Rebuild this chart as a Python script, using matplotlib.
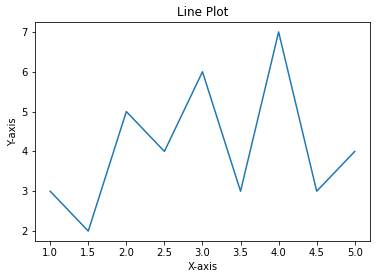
import matplotlib
matplotlib.use('Agg')
import matplotlib.pyplot as plt

x_values = [1.0, 1.5, 2.0, 2.5, 3.0, 3.5, 4.0, 4.5, 5.0]
y_values = [3, 2, 5, 4, 6, 3, 7, 3, 4]

fig = plt.figure(figsize=(376 / 72, 278 / 72), dpi=72)
fig.subplots_adjust(left=0.093, right=0.984, top=0.921, bottom=0.133)
plt.plot(x_values, y_values)
plt.title('Line Plot')
plt.xlabel('X-axis')
plt.ylabel('Y-axis')
plt.savefig('out.png', dpi=72)
